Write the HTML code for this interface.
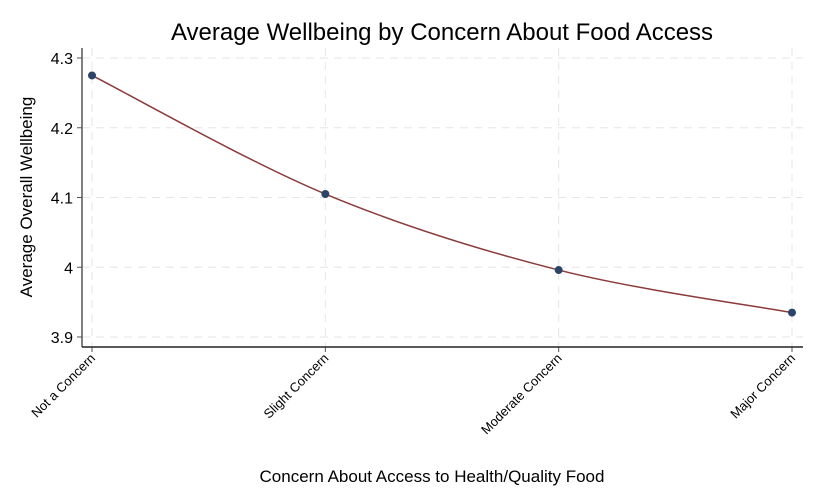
<!DOCTYPE html>
<html><head><meta charset="utf-8"><style>
body{margin:0;background:#fff}
svg{display:block;font-family:"Liberation Sans",Arial,sans-serif}
</style></head><body>
<svg id="chart" width="817" height="490" viewBox="0 0 817 490">
<rect width="817" height="490" fill="#fff"/>
<text x="442" y="40" font-size="24" text-anchor="middle" fill="#000">Average Wellbeing by Concern About Food Access</text>
<text transform="translate(32,197) rotate(-90)" font-size="17" text-anchor="middle" fill="#000">Average Overall Wellbeing</text>
<text x="432" y="482" font-size="17" text-anchor="middle" fill="#000">Concern About Access to Health/Quality Food</text>
<g id="grid"></g><g id="axes"></g><g id="series"></g>
</svg>
<script>
const categories=["Not a Concern","Slight Concern","Moderate Concern","Major Concern"];
const values=[4.275,4.105,3.996,3.935];
const yTicks=[3.9,4,4.1,4.2,4.3];
const yTickLabels=["3.9","4","4.1","4.2","4.3"];
const NS="http://www.w3.org/2000/svg";
const L=82,R=803,T=48,B=347;
const xS=i=>92+i*(792-92)/(categories.length-1);
const yS=v=>337-(v-3.9)*(337-58)/0.4;
function mk(tag,attrs,parent){const e=document.createElementNS(NS,tag);for(const k in attrs)e.setAttribute(k,attrs[k]);parent.appendChild(e);return e;}
const grid=document.getElementById('grid'),axes=document.getElementById('axes'),series=document.getElementById('series');
yTicks.forEach((t,i)=>{
 const y=yS(t);
 const g=mk('line',{x1:L,x2:R,y1:y,y2:y,stroke:'#e6e6e6','stroke-dasharray':'8,6','stroke-width':1},grid);
 
 
 const tk=mk('line',{x1:L-5,x2:L,y1:y,y2:y,stroke:'#555','stroke-width':1},axes);
 
 
 const tx=mk('text',{x:L-9,y:y+6,'font-size':16,'text-anchor':'end',fill:'#000'},axes);
 tx.textContent=yTickLabels[i];
 
 
});
categories.forEach((c,i)=>{
 const x=xS(i);
 const g=mk('line',{x1:x,x2:x,y1:T,y2:B,stroke:'#e6e6e6','stroke-dasharray':'8,6','stroke-width':1},grid);
 
 
 const tk=mk('line',{x1:x,x2:x,y1:B,y2:B+5,stroke:'#555','stroke-width':1},axes);
 
 
 const tx=mk('text',{transform:`translate(${x+4},${B+12}) rotate(-45)`,'font-size':13,'text-anchor':'end',fill:'#000'},axes);
 tx.textContent=c;
 
 
});
const ya=mk('line',{x1:L,x2:L,y1:T,y2:B,stroke:'#555','stroke-width':1.5},axes);


const xa=mk('line',{x1:L,x2:R,y1:B,y2:B,stroke:'#222','stroke-width':1.5},axes);


const pts=values.map((v,i)=>[xS(i),yS(v)]);
let d=`M${pts[0][0]},${pts[0][1]}`;
for(let i=0;i<pts.length-1;i++){
 const p0=pts[Math.max(0,i-1)],p1=pts[i],p2=pts[i+1],p3=pts[Math.min(pts.length-1,i+2)];
 const c1=[p1[0]+(p2[0]-p0[0])/6,p1[1]+(p2[1]-p0[1])/6];
 const c2=[p2[0]-(p3[0]-p1[0])/6,p2[1]-(p3[1]-p1[1])/6];
 d+=` C${c1[0]},${c1[1]} ${c2[0]},${c2[1]} ${p2[0]},${p2[1]}`;
}
const ln=mk('path',{d:d,fill:'none',stroke:'#8b3a3a','stroke-width':1.5},series);


pts.forEach(p=>{
 const c=mk('circle',{cx:p[0],cy:p[1],r:4,fill:'#2b4468'},series);
 
 
});
</script>
</body></html>
